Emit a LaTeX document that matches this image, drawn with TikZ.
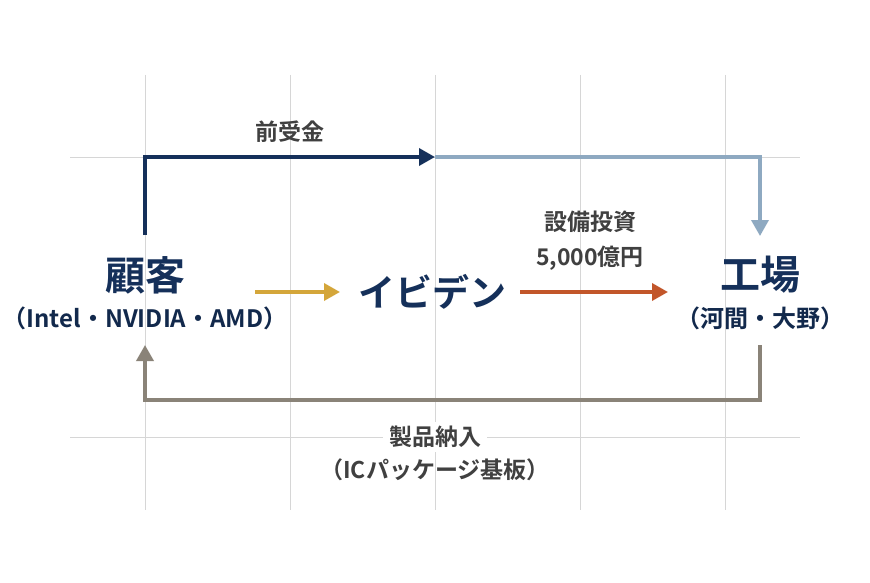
\documentclass[tikz,border=0pt]{standalone}
\usepackage{fontspec}
\setmainfont{Noto Sans CJK JP}[BoldFont={* Bold}]
\usetikzlibrary{positioning,arrows.meta}
\definecolor{navy}{HTML}{15305A}
\definecolor{skyblue}{HTML}{8EA9C1}
\definecolor{gold}{HTML}{D4A63A}
\definecolor{rust}{HTML}{C2562A}
\definecolor{taupe}{HTML}{8A8378}
\definecolor{gridgray}{HTML}{D6D6D6}
\begin{document}
\begin{tikzpicture}[x=1pt,y=-1pt,
                big/.style={font=\bfseries\fontsize{40}{44}\selectfont, text=navy, inner sep=0pt},
                sub/.style={font=\bfseries\fontsize{24}{28}\selectfont, text=navy!85!black, inner sep=0pt},
                lbl/.style={font=\bfseries\fontsize{23}{27}\selectfont, text=black!75, inner sep=0pt},
                flow/.style={line width=3.5pt, -{Triangle[length=16pt,width=17pt]}}
                ]
                \useasboundingbox[fill=white] (0,0) rectangle (870,583);
                % grid
                \foreach \gx in {145,290,435,580,725}
                  \draw[gridgray, line width=0.8pt] (\gx,75) -- (\gx,510);
                \foreach \gy in {157,437}
                  \draw[gridgray, line width=0.8pt] (70,\gy) -- (800,\gy);
                % nodes
                \node[big] (cust) at (145,275) {顧客};
                \node[sub] (custsub) at (145,318) {（Intel・NVIDIA・AMD）};
                \node[big, font=\bfseries\fontsize{37}{40}\selectfont] (ibiden) at (432,292) {イビデン};
                \node[big] (fab) at (760,275) {工場};
                \node[sub] (fabsub) at (760,318) {（河間・大野）};
                \node[lbl] (adv) at (290,132) {前受金};
                \node[lbl] (capex) at (590,222) {設備投資};
                \node[lbl] (amount) at (590,258) {5,000億円};
                \node[lbl, fill=white, inner xsep=6pt, inner ysep=4pt] (deliv) at (435,437) {製品納入};
                \node[lbl] (delivsub) at (435,470) {（ICパッケージ基板）};
                \coordinate (custtop) at (145,235);
                \coordinate (mid) at (435,157);
                \coordinate (fabtop) at (760,236);
                \coordinate (fabbot) at (760,345);
                \coordinate (custbot) at (145,345);
                % connectors
                \draw[flow, navy] (custtop) |- (mid);
                \draw[flow, skyblue] (mid) -| (fabtop);
                \draw[flow, gold] (255,292) -- (340,292);
                \draw[flow, rust] (ibiden.east -| 520,0) -- (668,292);
                \draw[flow, taupe] (fabbot) |- (145,400) -- (custbot);
\end{tikzpicture}
\end{document}
